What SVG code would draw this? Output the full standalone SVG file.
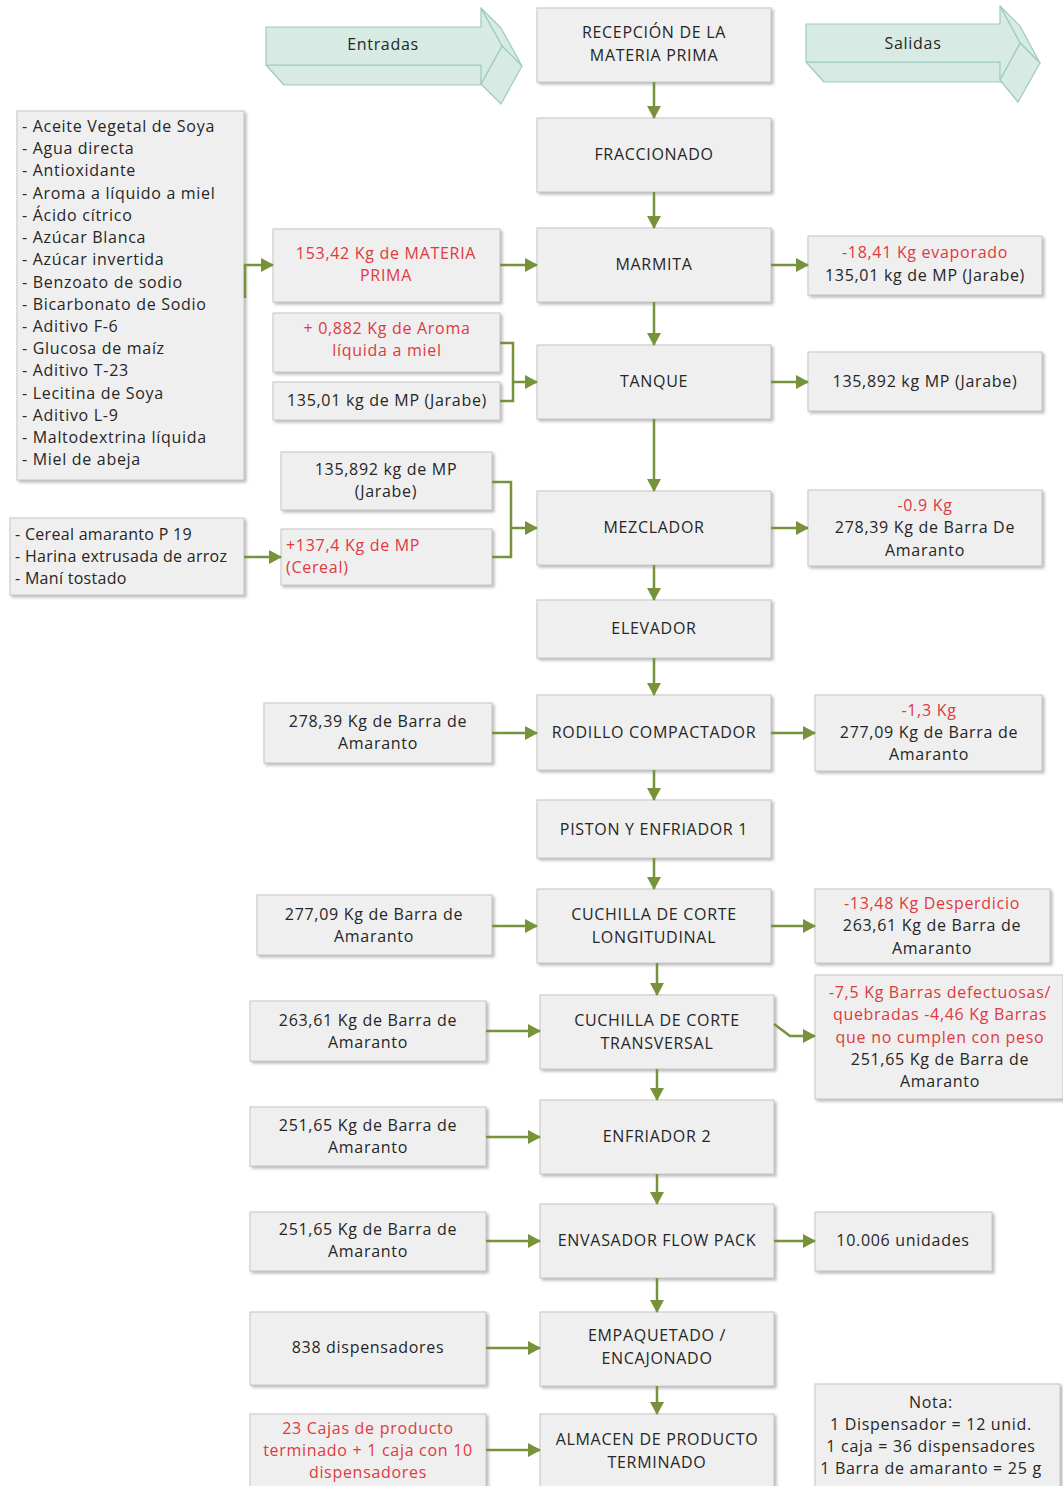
<svg xmlns="http://www.w3.org/2000/svg" width="1063" height="1486" viewBox="0 0 1063 1486">
<style>
.b{fill:#efefef;stroke:#c6c6c6;stroke-width:1;filter:url(#sh)}
text{font-family:"Open Sans","Liberation Sans",sans-serif;font-size:16px;letter-spacing:0.7px;fill:#262626}
.c{text-anchor:middle}
.r{fill:#e0393e}
.n{letter-spacing:0.3px}
.k{fill:none;stroke:#76933c;stroke-width:2.5}
.a{marker-end:url(#ah)}
.bg{fill:#d7ebe4;stroke:#9ccbbd;stroke-width:1.2;stroke-linejoin:round}
</style>
<defs>
<filter id="sh" x="-10%" y="-10%" width="125%" height="130%">
<feDropShadow dx="2" dy="2" stdDeviation="1.5" flood-color="#8a8a8a" flood-opacity="0.6"/>
</filter>
<marker id="ah" markerUnits="userSpaceOnUse" markerWidth="13" markerHeight="14" refX="12" refY="7" orient="auto">
<path d="M0,0 L13,7 L0,14 Z" fill="#76933c"/>
</marker>
</defs>
<rect width="1063" height="1486" fill="#fff"/>

<g id="entradas">
<polygon class="bg" points="266,65 481,65 499,85 284,85"/>
<polygon class="bg" points="481,8 502,46 522,66 501,28"/>
<polygon class="bg" points="502,46 481,84 501,104 522,66"/>
<polygon class="bg" points="266,27 481,27 481,8 502,46 481,84 481,65 266,65"/>
<text class="c" x="383" y="50">Entradas</text>
</g>
<g id="salidas">
<polygon class="bg" points="806,62 1000,62 1018,82 824,82"/>
<polygon class="bg" points="1000,6 1020,43 1040,63 1020,26"/>
<polygon class="bg" points="1020,43 1000,80 1018,102 1040,63"/>
<polygon class="bg" points="806,24 1000,24 1000,6 1020,43 1000,80 1000,62 806,62"/>
<text class="c" x="913" y="49">Salidas</text>
</g>

<g id="n-recepcion"><rect class="b" x="537" y="8" width="234" height="74"/><text class="c" x="654" y="38">RECEPCIÓN DE LA</text><text class="c" x="654" y="61">MATERIA PRIMA</text></g>
<g id="n-fraccionado"><rect class="b" x="537" y="118" width="234" height="74"/><text class="c" x="654" y="160">FRACCIONADO</text></g>
<g id="n-marmita"><rect class="b" x="537" y="228" width="234" height="74"/><text class="c" x="654" y="270">MARMITA</text></g>
<g id="n-tanque"><rect class="b" x="537" y="345" width="234" height="74"/><text class="c" x="654" y="387">TANQUE</text></g>
<g id="n-mezclador"><rect class="b" x="537" y="491" width="234" height="74"/><text class="c" x="654" y="533">MEZCLADOR</text></g>
<g id="n-elevador"><rect class="b" x="537" y="600" width="234" height="58"/><text class="c" x="654" y="634">ELEVADOR</text></g>
<g id="n-rodillo"><rect class="b" x="537" y="695" width="234" height="75"/><text class="c" x="654" y="738">RODILLO COMPACTADOR</text></g>
<g id="n-piston"><rect class="b" x="537" y="800" width="234" height="58"/><text class="c" x="654" y="835">PISTON Y ENFRIADOR 1</text></g>
<g id="n-cuchilla-long"><rect class="b" x="537" y="889" width="234" height="74"/><text class="c" x="654" y="920">CUCHILLA DE CORTE</text><text class="c" x="654" y="943">LONGITUDINAL</text></g>
<g id="n-cuchilla-trans"><rect class="b" x="540" y="995" width="234" height="74"/><text class="c" x="657" y="1026">CUCHILLA DE CORTE</text><text class="c" x="657" y="1049">TRANSVERSAL</text></g>
<g id="n-enfriador2"><rect class="b" x="540" y="1100" width="234" height="74"/><text class="c" x="657" y="1142">ENFRIADOR 2</text></g>
<g id="n-envasador"><rect class="b" x="540" y="1204" width="234" height="74"/><text class="c" x="657" y="1246">ENVASADOR FLOW PACK</text></g>
<g id="n-empaquetado"><rect class="b" x="540" y="1312" width="234" height="74"/><text class="c" x="657" y="1341">EMPAQUETADO /</text><text class="c" x="657" y="1364">ENCAJONADO</text></g>
<g id="n-almacen"><rect class="b" x="540" y="1414" width="234" height="80"/><text class="c" x="657" y="1445">ALMACEN DE PRODUCTO</text><text class="c" x="657" y="1468">TERMINADO</text></g>

<g id="in-lista">
<rect class="b" x="17" y="111" width="227" height="369"/>
<text x="22" y="132">- Aceite Vegetal de Soya</text>
<text x="22" y="154">- Agua directa</text>
<text x="22" y="176">- Antioxidante</text>
<text x="22" y="199">- Aroma a líquido a miel</text>
<text x="22" y="221">- Ácido cítrico</text>
<text x="22" y="243">- Azúcar Blanca</text>
<text x="22" y="265">- Azúcar invertida</text>
<text x="22" y="288">- Benzoato de sodio</text>
<text x="22" y="310">- Bicarbonato de Sodio</text>
<text x="22" y="332">- Aditivo F-6</text>
<text x="22" y="354">- Glucosa de maíz</text>
<text x="22" y="376">- Aditivo T-23</text>
<text x="22" y="399">- Lecitina de Soya</text>
<text x="22" y="421">- Aditivo L-9</text>
<text x="22" y="443">- Maltodextrina líquida</text>
<text x="22" y="465">- Miel de abeja</text>
</g>
<g id="in-materia"><rect class="b" x="273" y="229" width="227" height="73"/><text class="c r" x="386" y="259">153,42 Kg de  MATERIA</text><text class="c r" x="386" y="281">PRIMA</text></g>
<g id="in-aroma"><rect class="b" x="273" y="313" width="227" height="59"/><text class="c r" x="387" y="334">+ 0,882 Kg de Aroma</text><text class="c r" x="387" y="356">líquida a miel</text></g>
<g id="in-jarabe1"><rect class="b" x="273" y="382" width="227" height="38"/><text class="c" x="387" y="406">135,01 kg de MP (Jarabe)</text></g>
<g id="in-jarabe2"><rect class="b" x="281" y="452" width="211" height="58"/><text class="c" x="386" y="475">135,892 kg de MP</text><text class="c" x="386" y="497">(Jarabe)</text></g>
<g id="in-cereal"><rect class="b" x="281" y="529" width="211" height="56"/><text class="r" x="286" y="551">+137,4 Kg  de MP</text><text class="r" x="286" y="573">(Cereal)</text></g>
<g id="in-lista-cereal"><rect class="b" x="10" y="518" width="234" height="77"/><text class="n" x="15" y="540">- Cereal amaranto P 19</text><text class="n" x="15" y="562">- Harina extrusada de arroz</text><text class="n" x="15" y="584">- Maní tostado</text></g>
<g id="in-rodillo"><rect class="b" x="264" y="703" width="228" height="60"/><text class="c" x="378" y="727">278,39 Kg de Barra de</text><text class="c" x="378" y="749">Amaranto</text></g>
<g id="in-cuch-long"><rect class="b" x="257" y="895" width="235" height="60"/><text class="c" x="374" y="920">277,09 Kg de Barra de</text><text class="c" x="374" y="942">Amaranto</text></g>
<g id="in-cuch-trans"><rect class="b" x="250" y="1001" width="236" height="60"/><text class="c" x="368" y="1026">263,61 Kg de Barra de</text><text class="c" x="368" y="1048">Amaranto</text></g>
<g id="in-enfriador2"><rect class="b" x="250" y="1107" width="236" height="59"/><text class="c" x="368" y="1131">251,65 Kg de Barra de</text><text class="c" x="368" y="1153">Amaranto</text></g>
<g id="in-envasador"><rect class="b" x="250" y="1212" width="236" height="59"/><text class="c" x="368" y="1235">251,65 Kg de Barra de</text><text class="c" x="368" y="1257">Amaranto</text></g>
<g id="in-empaquetado"><rect class="b" x="250" y="1312" width="236" height="73"/><text class="c" x="368" y="1353">838 dispensadores</text></g>
<g id="in-almacen"><rect class="b" x="250" y="1414" width="236" height="80"/><text class="c r" x="368" y="1434">23 Cajas de producto</text><text class="c r" x="368" y="1456">terminado + 1 caja con 10</text><text class="c r" x="368" y="1478">dispensadores</text></g>

<g id="out-marmita"><rect class="b" x="808" y="236" width="234" height="59"/><text class="c r" x="925" y="258">-18,41 Kg evaporado</text><text class="c" x="925" y="281">135,01 kg de MP (Jarabe)</text></g>
<g id="out-tanque"><rect class="b" x="808" y="352" width="234" height="59"/><text class="c" x="925" y="387">135,892 kg MP (Jarabe)</text></g>
<g id="out-mezclador"><rect class="b" x="808" y="490" width="234" height="76"/><text class="c r" x="925" y="511">-0.9 Kg</text><text class="c" x="925" y="533">278,39 Kg de Barra De</text><text class="c" x="925" y="556">Amaranto</text></g>
<g id="out-rodillo"><rect class="b" x="815" y="695" width="227" height="76"/><text class="c r" x="929" y="716">-1,3 Kg</text><text class="c" x="929" y="738">277,09 Kg de Barra de</text><text class="c" x="929" y="760">Amaranto</text></g>
<g id="out-cuch-long"><rect class="b" x="815" y="889" width="235" height="74"/><text class="c r" x="932" y="909">-13,48 Kg Desperdicio</text><text class="c" x="932" y="931">263,61 Kg de Barra de</text><text class="c" x="932" y="954">Amaranto</text></g>
<g id="out-cuch-trans"><rect class="b" x="815" y="975" width="248" height="124"/><text class="c r" x="940" y="998">-7,5 Kg Barras defectuosas/</text><text class="c r" x="940" y="1020">quebradas -4,46 Kg Barras</text><text class="c r" x="940" y="1043">que no cumplen con peso</text><text class="c" x="940" y="1065">251,65 Kg de Barra de</text><text class="c" x="940" y="1087">Amaranto</text></g>
<g id="out-envasador"><rect class="b" x="815" y="1212" width="177" height="59"/><text class="c" x="903" y="1246">10.006 unidades</text></g>
<g id="nota"><rect class="b" x="815" y="1384" width="245" height="110"/><text class="c" x="931" y="1408">Nota:</text><text class="c" x="931" y="1430">1 Dispensador = 12 unid.</text><text class="c" x="931" y="1452">1 caja = 36 dispensadores</text><text class="c" x="931" y="1474">1 Barra de amaranto = 25 g</text></g>

<g id="connectors">
<path class="k a" d="M654,82 V118"/>
<path class="k a" d="M654,192 V228"/>
<path class="k a" d="M654,302 V345"/>
<path class="k a" d="M654,419 V491"/>
<path class="k a" d="M654,565 V600"/>
<path class="k a" d="M654,658 V695"/>
<path class="k a" d="M654,770 V800"/>
<path class="k a" d="M654,858 V889"/>
<path class="k a" d="M657,963 V995"/>
<path class="k a" d="M657,1069 V1100"/>
<path class="k a" d="M657,1174 V1204"/>
<path class="k a" d="M657,1278 V1312"/>
<path class="k a" d="M657,1386 V1414"/>
<path class="k a" d="M245,298 V265 H273"/>
<path class="k a" d="M500,265 H537"/>
<path class="k a" d="M771,265 H808"/>
<path class="k" d="M500,343 H513 V401 H500"/>
<path class="k a" d="M513,382 H537"/>
<path class="k a" d="M771,382 H808"/>
<path class="k" d="M492,482 H511 V557 H492"/>
<path class="k a" d="M511,528 H537"/>
<path class="k a" d="M244,557 H281"/>
<path class="k a" d="M771,528 H808"/>
<path class="k a" d="M492,733 H537"/>
<path class="k a" d="M771,733 H815"/>
<path class="k a" d="M492,926 H537"/>
<path class="k a" d="M771,926 H815"/>
<path class="k a" d="M486,1031 H540"/>
<path class="k a" d="M774,1024 L790,1036 H815"/>
<path class="k a" d="M486,1137 H540"/>
<path class="k a" d="M486,1241 H540"/>
<path class="k a" d="M774,1241 H815"/>
<path class="k a" d="M486,1348 H540"/>
<path class="k a" d="M486,1450 H540"/>
</g>
</svg>
